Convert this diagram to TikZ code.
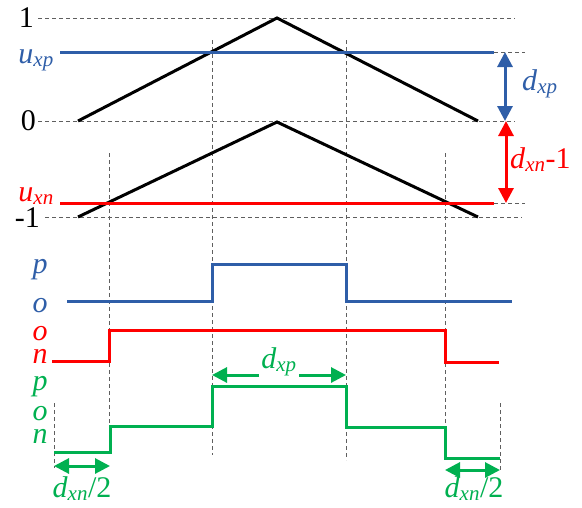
\documentclass[tikz,border=0pt]{standalone}
\usepackage{fontspec}
\setmainfont{Liberation Serif}
\usetikzlibrary{arrows.meta,positioning,calc}
\definecolor{wb}{RGB}{47,94,168}
\definecolor{wr}{RGB}{255,0,0}
\definecolor{wg}{RGB}{0,176,80}
\definecolor{gd}{RGB}{95,95,95}
\newcommand{\vsub}[2]{\textit{#1}\textsubscript{\textit{#2}}}
\tikzset{
  guide/.style={draw=gd,line width=0.7pt,dash pattern=on 4pt off 3pt},
  carrier/.style={draw=black,line width=3pt,line join=miter},
  wave/.style={line width=3pt,color=#1},
  lbl/.style={font=\fontsize{30}{33}\selectfont,inner sep=0pt,text=#1},
  lbl/.default=black,
  dimarr/.style={{Triangle[length=15pt,width=15pt]}-{Triangle[length=15pt,width=15pt]},line width=3pt,color=#1},
  halfarr/.style={-{Triangle[length=15pt,width=15pt]},line width=3pt,color=#1},
}

\begin{document}
\begin{tikzpicture}[x=1pt,y=-1pt]
  \useasboundingbox (0,0) rectangle (582,507);
  % guide lines
  \draw[guide] (38,18) -- (515,18);
  \draw[guide] (38,121) -- (515,121);
  \draw[guide] (45,217) -- (522,217);
  \draw[guide] (494,52) -- (525,52);
  \draw[guide] (494,203) -- (525,203);
  \draw[guide] (212,40) -- (212,455);
  \draw[guide] (346,40) -- (346,460);
  \draw[guide] (109,153) -- (109,452);
  \draw[guide] (445,153) -- (445,458);
  \draw[guide] (54,403) -- (54,468);
  \draw[guide] (500,403) -- (500,472);

  % carriers and references
  \draw[carrier] (78,121) -- (277,18) -- (478,121);
  \draw[carrier] (78,217) -- (277,122) -- (478,217);
  \draw[wave=wb] (60,52) -- (494,52);
  \draw[wave=wr] (60,203) -- (494,203);

  \node[lbl,anchor=base east] (one) at (34,27) {1};
  \node[lbl,anchor=base east] (zero) at (36,130) {0};
  \node[lbl,anchor=base east] (mone) at (40,227) {-1};
  \node[lbl=wb,anchor=base east] (uxp) at (54,63) {\vsub{u}{xp}};
  \node[lbl=wr,anchor=base east] (uxn) at (54,201) {\vsub{u}{xn}};

  \coordinate (dpa) at (505,52);
  \coordinate (dpb) at (505,121);
  \coordinate (dna) at (506,121);
  \coordinate (dnb) at (506,203);
  \draw[dimarr=wb] (dpa) -- (dpb);
  \draw[dimarr=wr] (dna) -- (dnb);
  \node[lbl=wb,anchor=base west] (dxp) at (522,90) {\vsub{d}{xp}};
  \node[lbl=wr,anchor=base west] (dxn) at (510,168) {\vsub{d}{xn}-1};

  % switching states
  \draw[wave=wb] (67,301) -- (212,301) -- (212,264) -- (346,264) -- (346,301) -- (512,301);
  \draw[wave=wr] (52,361) -- (109,361) -- (109,330) -- (445,330) -- (445,362) -- (499,362);
  \draw[wave=wg] (54,452) -- (110,452) -- (110,426) -- (212,426) -- (212,386)
    -- (346,386) -- (346,427) -- (445,427) -- (445,458) -- (500,458);

  \node[lbl=wb,anchor=base] (bp) at (40,273) {\textit{p}};
  \node[lbl=wb,anchor=base] (bo) at (40,312) {\textit{o}};
  \node[lbl=wr,anchor=base] (ro) at (40,340) {\textit{o}};
  \node[lbl=wr,anchor=base] (rn) at (40,363) {\textit{n}};
  \node[lbl=wg,anchor=base] (gp) at (40,390) {\textit{p}};
  \node[lbl=wg,anchor=base] (go) at (40,420) {\textit{o}};
  \node[lbl=wg,anchor=base] (gn) at (40,443) {\textit{n}};

  \node[lbl=wg,anchor=base] (dxpg) at (279,368) {\vsub{d}{xp}};
  \coordinate (ga) at (212,375);
  \coordinate (gb) at (346,375);
  \draw[halfarr=wg] (dxpg.west |- ga) ++(-2,0) -- (ga);
  \draw[halfarr=wg] (dxpg.east |- gb) ++(2,0) -- (gb);

  \coordinate (hla) at (54,466);
  \coordinate (hlb) at (110,466);
  \coordinate (hra) at (445,470);
  \coordinate (hrb) at (500,470);
  \draw[dimarr=wg] (hla) -- (hlb);
  \draw[dimarr=wg] (hra) -- (hrb);
  \node[lbl=wg,anchor=base] (hl) at (82,497) {\vsub{d}{xn}/2};
  \node[lbl=wg,anchor=base] (hr) at (474,497) {\vsub{d}{xn}/2};
\end{tikzpicture}
\end{document}
